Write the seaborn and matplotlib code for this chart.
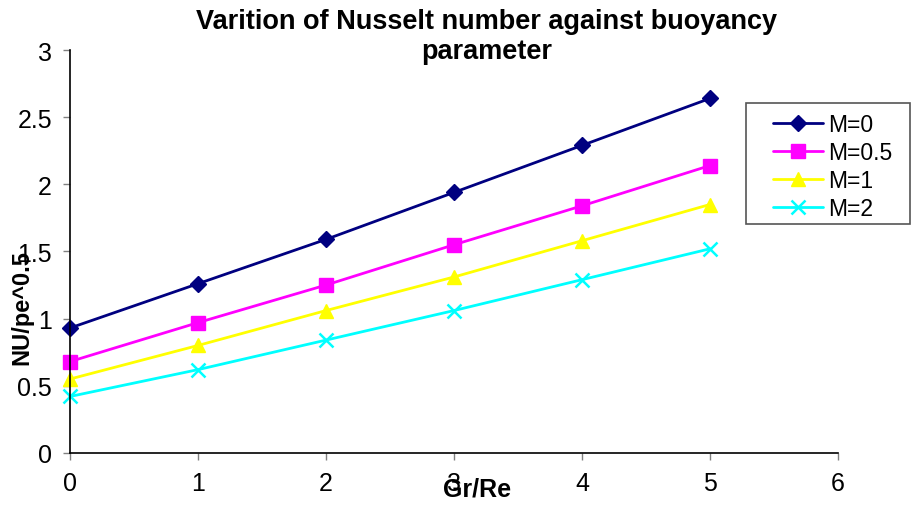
import matplotlib
matplotlib.use("Agg")
import matplotlib.pyplot as plt
from matplotlib.patches import Rectangle
import seaborn as sns
import pandas as pd

gr_re = [0, 1, 2, 3, 4, 5]
m0 = [0.93, 1.26, 1.59, 1.94, 2.29, 2.64]
m05 = [0.68, 0.97, 1.25, 1.55, 1.84, 2.14]
m1 = [0.55, 0.80, 1.06, 1.31, 1.58, 1.85]
m2 = [0.42, 0.62, 0.84, 1.06, 1.29, 1.52]
series_names = ["M=0", "M=0.5", "M=1", "M=2"]
x_ticks = [0, 1, 2, 3, 4, 5, 6]
y_ticks = [0, 0.5, 1, 1.5, 2, 2.5, 3]

sns.set_theme(style="white")
plt.rcParams["font.family"] = ["Liberation Sans", "DejaVu Sans"]
plt.rcParams["text.color"] = "black"
plt.rcParams["xtick.color"] = "black"
plt.rcParams["ytick.color"] = "black"

rows = []
for name, vals in zip(series_names, [m0, m05, m1, m2]):
    for x, y in zip(gr_re, vals):
        rows.append({"Gr/Re": x, "Nu": y, "series": name})
df = pd.DataFrame(rows)

palette = {"M=0": "#000080", "M=0.5": "#FF00FF", "M=1": "#FFFF00", "M=2": "#00FFFF"}
markers = {"M=0": "D", "M=0.5": "s", "M=1": "^", "M=2": "x"}
sizes = {"M=0": 8, "M=0.5": 10, "M=1": 10, "M=2": 10}

fig = plt.figure(figsize=(9.11, 5.06), dpi=100)
ax = fig.add_axes([0.0768, 0.103, 0.843, 0.796])

for name in series_names:
    sub = df[df["series"] == name]
    sns.lineplot(data=sub, x="Gr/Re", y="Nu", ax=ax, color=palette[name],
                 marker=markers[name], markersize=sizes[name],
                 markeredgecolor=palette[name],
                 markeredgewidth=1.8 if name == "M=2" else 1,
                 linewidth=2, label=name)

ax.set_xlim(0, 6)
ax.set_ylim(0, 3)
ax.set_xticks(x_ticks)
ax.set_yticks(y_ticks)
ax.set_yticklabels([f"{t:g}" for t in y_ticks])
ax.tick_params(axis="both", labelsize=18, length=5, width=1,
               direction="out", bottom=True, left=True, pad=8)
ax.tick_params(axis="both", color="#808080")
for side in ["top", "right"]:
    ax.spines[side].set_visible(False)
for side in ["left", "bottom"]:
    ax.spines[side].set_color("black")
    ax.spines[side].set_linewidth(1.2)
for ln in ax.lines:
    ln.set_clip_on(False)

ax.set_xlabel("")
ax.set_ylabel("")
fig.text(0.524, 0.032, "Gr/Re", fontsize=18, fontweight="bold",
         ha="center", va="center")
fig.text(0.024, 0.393, "NU/pe^0.5", fontsize=17, fontweight="bold",
         rotation=90, ha="center", va="center")
fig.text(0.534, 1 - 9 / 506, "Varition of Nusselt number against buoyancy\nparameter",
         fontsize=19.5, fontweight="bold", ha="center", va="top",
         linespacing=1.2)

leg = ax.legend(loc="upper left", bbox_to_anchor=(773 / 911, 1 - 114 / 506),
                bbox_transform=fig.transFigure, frameon=False,
                fontsize=16.5, handlelength=2.2, handletextpad=0.22,
                borderpad=0, labelspacing=0.22, borderaxespad=0)
fig.patches.append(Rectangle((746 / 911, 1 - 225 / 506), 164 / 911, 121 / 506,
                             transform=fig.transFigure, fill=False,
                             edgecolor="#555555", linewidth=1.2))

fig.savefig("out.png", dpi=100)
